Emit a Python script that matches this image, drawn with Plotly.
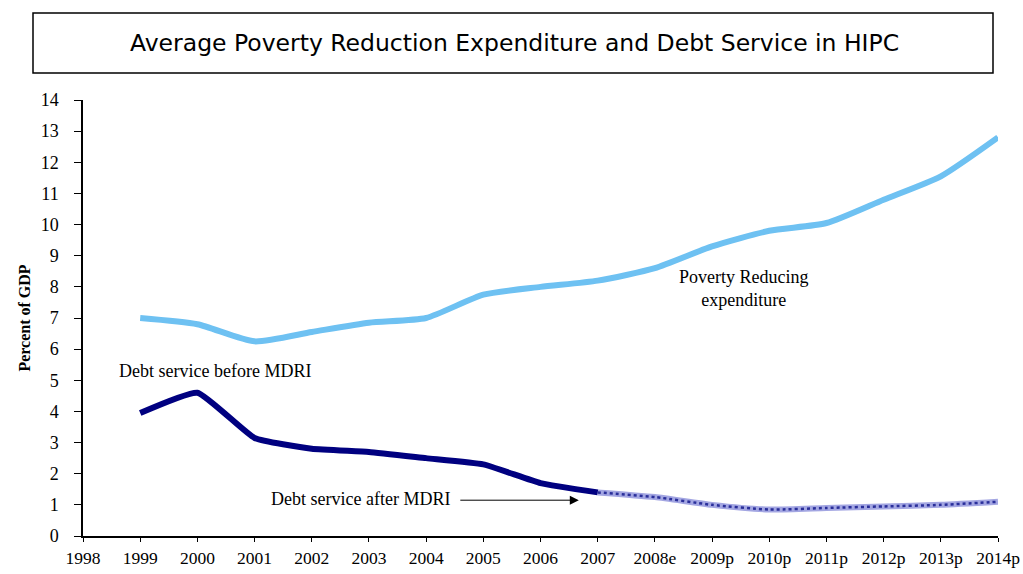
import plotly.graph_objects as go

years = ["1998", "1999", "2000", "2001", "2002", "2003", "2004", "2005", "2006",
         "2007", "2008e", "2009p", "2010p", "2011p", "2012p", "2013p", "2014p"]
poverty_years = years[1:]
poverty = [7.0, 6.8, 6.25, 6.55, 6.85, 7.0, 7.75, 8.0, 8.2, 8.6, 9.3, 9.8, 10.05, 10.8, 11.55, 12.8]
debt_before_years = years[1:10]
debt_before = [3.95, 4.6, 3.15, 2.8, 2.7, 2.5, 2.3, 1.7, 1.4]
debt_after_years = years[9:]
debt_after = [1.4, 1.25, 1.0, 0.85, 0.9, 0.95, 1.0, 1.1]
y_ticks = list(range(0, 15))

idx = {y: i for i, y in enumerate(years)}
serif = "Liberation Serif, Times New Roman, serif"

fig = go.Figure()
fig.add_trace(go.Scatter(x=[idx[y] for y in poverty_years], y=poverty, mode="lines",
                         line=dict(color="#6ec1f2", width=6, shape="spline", smoothing=0.6),
                         showlegend=False, hoverinfo="skip"))
fig.add_trace(go.Scatter(x=[idx[y] for y in debt_after_years], y=debt_after, mode="lines",
                         line=dict(color="#a3a6e2", width=6, shape="spline", smoothing=0.6),
                         showlegend=False, hoverinfo="skip"))
fig.add_trace(go.Scatter(x=[idx[y] for y in debt_after_years], y=debt_after, mode="lines",
                         line=dict(color="#2a2f9a", width=2.5, dash="dot", shape="spline", smoothing=0.6),
                         showlegend=False, hoverinfo="skip"))
fig.add_trace(go.Scatter(x=[idx[y] for y in debt_before_years], y=debt_before, mode="lines",
                         line=dict(color="#000080", width=6, shape="spline", smoothing=0.4),
                         showlegend=False, hoverinfo="skip"))

fig.update_layout(
    width=1023, height=574,
    margin=dict(l=83, r=25, t=100, b=38),
    paper_bgcolor="white", plot_bgcolor="white",
    font=dict(family=serif, color="black", size=18),
    xaxis=dict(range=[0, 16], tickvals=list(range(len(years))), ticktext=years, automargin=False,
               showgrid=False, zeroline=False, showline=True, linecolor="black", linewidth=1.5,
               ticks="outside", ticklen=4, tickcolor="black", ticklabelstandoff=1,
               tickfont=dict(size=17.5, family=serif)),
    yaxis=dict(range=[0, 14], tickvals=y_ticks, showgrid=False, zeroline=False, automargin=False,
               showline=True, linecolor="black", linewidth=1.5, ticks="outside", ticklen=7,
               tickcolor="black", ticklabelstandoff=12, tickfont=dict(size=18, family=serif),
               title=dict(text="<b>Percent of GDP</b>", font=dict(size=16, family=serif), standoff=6)),
    shapes=[dict(type="rect", xref="paper", yref="paper",
                 x0=(33 - 83) / 915, x1=(993 - 83) / 915,
                 y0=(574 - 38 - 73) / 436, y1=(574 - 38 - 13) / 436,
                 line=dict(color="black", width=1.5), fillcolor="white")],
    annotations=[
        dict(text="Average Poverty Reduction Expenditure and Debt Service in HIPC",
             xref="paper", yref="paper", x=(514 - 83) / 915, y=(574 - 38 - 43) / 436,
             yanchor="middle", xanchor="center",
             showarrow=False, font=dict(family="DejaVu Sans", size=23.5, color="black")),
        dict(text="Poverty Reducing<br>expenditure", x=11.55, y=7.95, xref="x", yref="y",
             showarrow=False, font=dict(size=18, family=serif)),
        dict(text="Debt service before MDRI", x=0.6, y=5.3, xref="x", yref="y", xanchor="left",
             showarrow=False, font=dict(size=18, family=serif)),
        dict(text="Debt service after MDRI", x=3.25, y=1.2, xref="x", yref="y", xanchor="left",
             showarrow=False, font=dict(size=18, family=serif)),
        dict(text="", x=8.67, y=1.15, xref="x", yref="y", ax=-120, ay=0,
             showarrow=True, arrowhead=2, arrowsize=1.8, arrowwidth=1, arrowcolor="black"),
    ],
)
fig.write_html("out.html")
